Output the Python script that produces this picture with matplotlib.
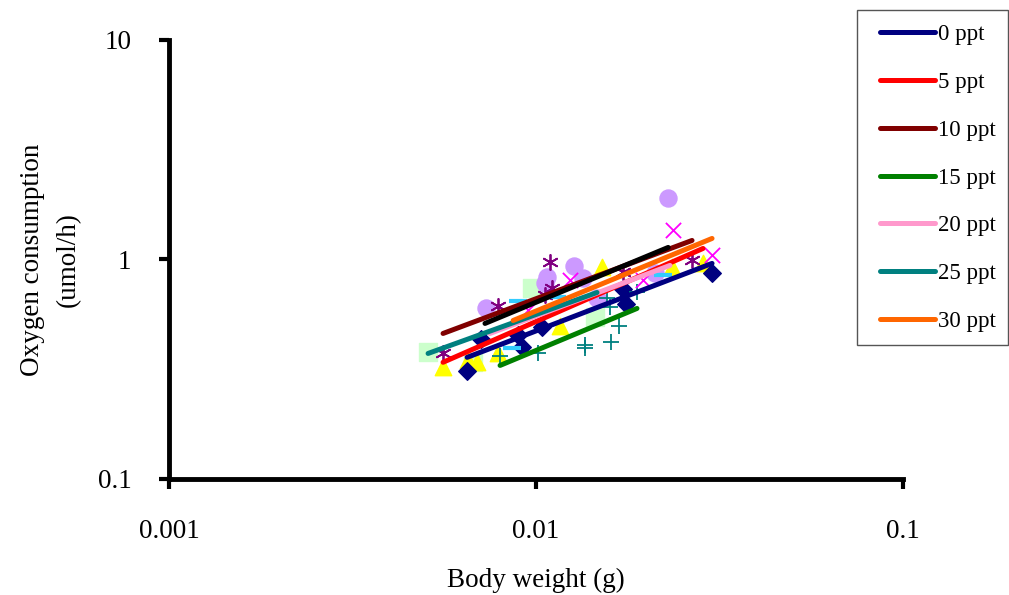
import matplotlib.pyplot as plt
from matplotlib.patches import Rectangle

plt.rcParams['font.family'] = ['Liberation Serif', 'DejaVu Serif']

# Scatter data (body weight g, oxygen consumption umol/h)
dia_x = [0.00649, 0.00708, 0.00893, 0.00916, 0.01038, 0.01726, 0.01759, 0.03017]
dia_y = [0.309, 0.432, 0.451, 0.401, 0.490, 0.730, 0.624, 0.864]

tri_x = [0.00558, 0.00653, 0.00691, 0.00788, 0.01162, 0.01513, 0.02348, 0.02851]
tri_y = [0.322, 0.347, 0.340, 0.373, 0.500, 0.920, 0.920, 0.959]

ast_x = [0.00558, 0.00788, 0.01092, 0.01106, 0.01058, 0.01726, 0.02661]
ast_y = [0.373, 0.611, 0.969, 0.738, 0.686, 0.873, 0.990]

sq_x = [0.00508, 0.00673, 0.00975, 0.01448]
sq_y = [0.377, 0.340, 0.738, 0.544]

plus_x = [0.00798, 0.01013, 0.01360, 0.01360, 0.01601, 0.01683, 0.01591, 0.01561, 0.01884]
plus_y = [0.362, 0.373, 0.406, 0.393, 0.419, 0.500, 0.604, 0.664, 0.707]

circ_x = [0.00731, 0.01269, 0.01072, 0.01058, 0.01343, 0.01466, 0.02291, 0.02110]
circ_y = [0.598, 0.929, 0.828, 0.777, 0.819, 0.664, 1.897, 0.864]

dash_x = [0.00893, 0.00861, 0.01141, 0.02219]
dash_y = [0.644, 0.393, 0.671, 0.846]

xm_x = [0.02361, 0.03017, 0.01238, 0.01957, 0.00951]
xm_y = [1.356, 1.043, 0.802, 0.802, 0.586]

# Regression line end points per salinity
labels = ['0 ppt', '5 ppt', '10 ppt', '15 ppt', '20 ppt', '25 ppt', '30 ppt']
line_x = [(0.00649, 0.03017), (0.00558, 0.02851), (0.00558, 0.02661), (0.00798, 0.01884),
          (0.00749, 0.02317), (0.00508, 0.01466), (0.00866, 0.03017)]
line_y = [(0.358, 0.959), (0.340, 1.122), (0.460, 1.220), (0.329, 0.598),
          (0.460, 0.939), (0.373, 0.707), (0.527, 1.246)]
line_colors = ['#000080', '#ff0000', '#800000', '#008000', '#ff99cc', '#008080', '#ff6600']
all_x = (0.00726, 0.02291)
all_y = (0.511, 1.134)

fig = plt.figure(figsize=(10.09, 5.95), dpi=100)
ax = fig.add_axes([0.1675, 0.195, 0.7275, 0.738])

ax.scatter(sq_x, sq_y, marker='s', s=170, color='#ccffcc', zorder=2)
ax.scatter(circ_x, circ_y, marker='o', s=150, color='#cc99ff', zorder=2)
ax.scatter(tri_x, tri_y, marker='^', s=140, color='#ffff00', zorder=2)
ax.scatter(dia_x, dia_y, marker='D', s=80, color='#000080', zorder=2)
ax.scatter(ast_x, ast_y, marker=(6, 2, 0), s=120, color='#800080', linewidths=1.3, zorder=2)
ax.scatter(plus_x, plus_y, marker='+', s=120, color='#008080', linewidths=1.3, zorder=2)
ax.scatter(dash_x, dash_y, marker='_', s=170, color='#33ccff', linewidths=3, zorder=2)
ax.scatter(xm_x, xm_y, marker='x', s=120, color='#ff00ff', linewidths=1.3, zorder=2)

handles = []
for lx, ly, c, lab in zip(line_x, line_y, line_colors, labels):
    h, = ax.plot(lx, ly, color=c, lw=3.6, solid_capstyle='round', label=lab, zorder=3)
    handles.append(h)
ax.plot(all_x, all_y, color='black', lw=3.6, solid_capstyle='round', zorder=3)

ax.set_xscale('log')
ax.set_yscale('log')
ax.set_xlim(0.001, 0.1)
ax.set_ylim(0.1, 10)
ax.set_xticks([0.001, 0.01, 0.1])
ax.set_xticklabels(['0.001', '0.01', '0.1'])
ax.set_yticks([0.1, 1, 10])
ax.set_yticklabels(['0.1', '1', '10'])
ax.minorticks_off()
ax.tick_params(axis='both', length=7, width=3, labelsize=19.5, direction='out')
ax.tick_params(axis='x', pad=22)
ax.tick_params(axis='y', pad=20)

for side in ['top', 'right']:
    ax.spines[side].set_visible(False)
for side in ['left', 'bottom']:
    ax.spines[side].set_linewidth(3.5)

ax.set_xlabel('Body weight (g)', fontsize=19.5, labelpad=17)
ax.set_ylabel('Oxygen consumption\n(umol/h)', fontsize=19.5, labelpad=12, linespacing=1.6)

# legend frame drawn separately, entries placed inside it
fig.patches.append(Rectangle((857 / 1009, 1 - 345 / 595), 151 / 1009, 335 / 595,
                             transform=fig.transFigure, fill=False,
                             edgecolor='#555555', lw=1.0))
fig.legend(handles=handles, loc='upper left', bbox_to_anchor=(0.8722, 0.9597),
           borderaxespad=0, borderpad=0, fontsize=16.5, frameon=False,
           handlelength=2.4, handletextpad=0.12, labelspacing=1.17)

plt.savefig('out.png', dpi=100)
